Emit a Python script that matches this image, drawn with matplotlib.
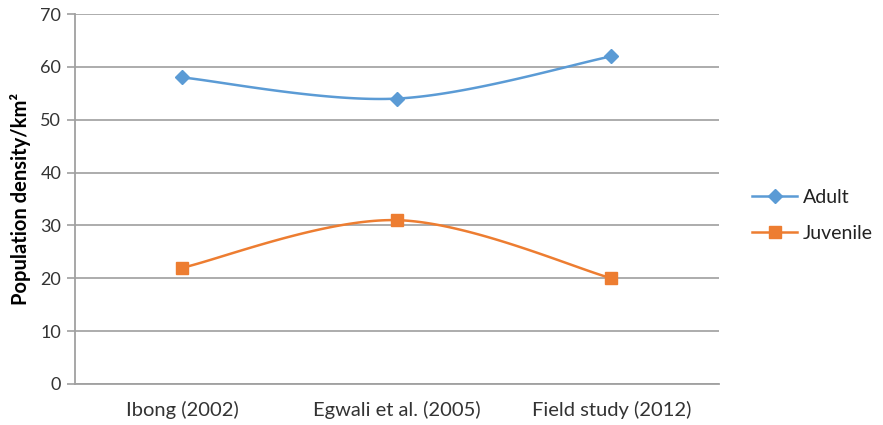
import numpy as np
import matplotlib
matplotlib.use("Agg")
import matplotlib.pyplot as plt

categories = ["Ibong (2002)", "Egwali et al. (2005)", "Field study (2012)"]
adult = [58, 54, 62]
juvenile = [22, 31, 20]
yticks = [0, 10, 20, 30, 40, 50, 60, 70]

plt.rcParams['font.family'] = ['Lato', 'DejaVu Sans']

def smooth(x, y, n=60):
    # Catmull-Rom style (Excel smoothed line) through the given points
    x = np.asarray(x, float); y = np.asarray(y, float)
    px = np.concatenate([[x[0]], x, [x[-1]]])
    py = np.concatenate([[y[0]], y, [y[-1]]])
    xs, ys = [], []
    for i in range(1, len(px) - 2):
        p0 = np.array([px[i - 1], py[i - 1]]); p1 = np.array([px[i], py[i]])
        p2 = np.array([px[i + 1], py[i + 1]]); p3 = np.array([px[i + 2], py[i + 2]])
        c1 = p1 + (p2 - p0) / 6.0
        c2 = p2 - (p3 - p1) / 6.0
        t = np.linspace(0, 1, n)[:, None]
        b = (1 - t) ** 3 * p1 + 3 * (1 - t) ** 2 * t * c1 + 3 * (1 - t) * t ** 2 * c2 + t ** 3 * p2
        xs.append(b[:, 0]); ys.append(b[:, 1])
    return np.concatenate(xs), np.concatenate(ys)

fig = plt.figure(figsize=(8.83, 4.25), dpi=100)
ax = fig.add_axes([0.085, 0.0965, 0.729, 0.8705])

x = np.arange(len(categories))
blue = "#5B9BD5"
orange = "#ED7D31"

sx, sy = smooth(x, adult)
ax.plot(sx, sy, color=blue, lw=1.8, zorder=3)
ax.plot(x, adult, ls='none', marker='D', ms=7, color=blue, zorder=4)
sx, sy = smooth(x, juvenile)
ax.plot(sx, sy, color=orange, lw=1.8, zorder=3)
ax.plot(x, juvenile, ls='none', marker='s', ms=8, color=orange, zorder=4)

# legend proxies
ax.plot([], [], color=blue, lw=1.8, marker='D', ms=7, label="Adult")
ax.plot([], [], color=orange, lw=1.8, marker='s', ms=8, label="Juvenile")

ax.set_xlim(-0.5, len(categories) - 0.5)
ax.set_ylim(0, 70)
ax.set_yticks(yticks)
ax.set_xticks(x)
ax.set_xticklabels(categories, fontsize=14.5, color="#333333")
ax.tick_params(axis='y', labelsize=13, colors="#333333", length=6, width=1.2, color="#a0a0a0", pad=4)
ax.tick_params(axis='x', length=0, pad=12)
ax.yaxis.grid(True, color="#a6a6a6", lw=1.3)
ax.set_axisbelow(True)
for s in ['top', 'right']:
    ax.spines[s].set_visible(False)
for s in ['left', 'bottom']:
    ax.spines[s].set_color("#a0a0a0")
    ax.spines[s].set_linewidth(1.3)

ax.set_ylabel("Population density/km²", fontsize=14.5, fontweight='bold', labelpad=7)

leg = fig.legend(handles=ax.get_lines()[-2:], loc='center left', bbox_to_anchor=(0.832, 0.493),
                 frameon=False, fontsize=14, handlelength=2.3, labelspacing=0.95, handletextpad=0.3)
for t in leg.get_texts():
    t.set_color("#222222")

fig.savefig("out.png", dpi=100)
